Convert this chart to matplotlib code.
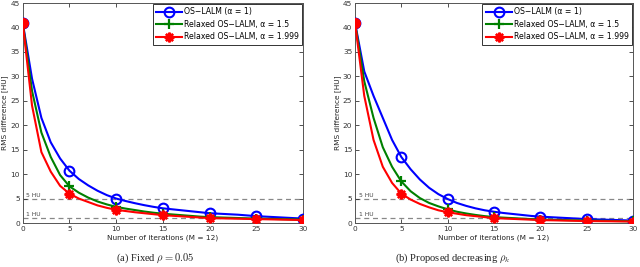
import matplotlib
matplotlib.use("Agg")
import matplotlib.pyplot as plt

plt.rcParams['mathtext.fontset'] = 'cm'

iters = list(range(31))

# Panel (a): fixed rho = 0.05
a_blue = [41, 29.5, 21.5, 16.5, 13.2, 10.7, 9.0, 7.7, 6.6, 5.7, 5.0, 4.5, 4.05, 3.65, 3.3, 3.0,
          2.8, 2.6, 2.4, 2.2, 2.0, 1.9, 1.8, 1.7, 1.55, 1.4, 1.3, 1.2, 1.1, 1.0, 0.9]
a_green = [41, 27, 18.5, 13.5, 9.8, 7.5, 6.2, 5.2, 4.4, 3.8, 3.3, 2.95, 2.65, 2.35, 2.1, 1.9,
           1.75, 1.6, 1.45, 1.3, 1.2, 1.14, 1.08, 1.02, 0.96, 0.9, 0.86, 0.82, 0.78, 0.74, 0.7]
a_red = [41, 24, 14.5, 10.5, 7.6, 6.0, 5.0, 4.3, 3.6, 3.1, 2.7, 2.45, 2.2, 2.0, 1.8, 1.6,
         1.48, 1.36, 1.24, 1.12, 1.0, 0.96, 0.92, 0.88, 0.84, 0.8, 0.76, 0.72, 0.68, 0.64, 0.6]

# Panel (b): proposed decreasing rho_k
b_blue = [41, 31, 26, 21.5, 17, 13.5, 11, 8.9, 7.2, 5.9, 4.9, 4.1, 3.5, 3.0, 2.6, 2.3,
          2.05, 1.85, 1.65, 1.45, 1.3, 1.2, 1.1, 1.0, 0.9, 0.8, 0.74, 0.68, 0.62, 0.56, 0.5]
b_green = [41, 29, 21.5, 15.5, 11.5, 8.5, 6.5, 5.1, 4.1, 3.4, 2.8, 2.3, 1.95, 1.65, 1.4, 1.2,
           1.1, 1.0, 0.9, 0.8, 0.7, 0.66, 0.62, 0.58, 0.54, 0.5, 0.47, 0.44, 0.41, 0.38, 0.35]
b_red = [41, 26, 17, 11.5, 8.2, 6.0, 4.8, 3.9, 3.2, 2.6, 2.2, 1.9, 1.6, 1.4, 1.2, 1.0,
         0.92, 0.84, 0.76, 0.68, 0.6, 0.56, 0.52, 0.48, 0.44, 0.4, 0.38, 0.36, 0.34, 0.32, 0.3]

labels = ['OS\u2212LALM (α = 1)', 'Relaxed OS\u2212LALM, α = 1.5',
          'Relaxed OS\u2212LALM, α = 1.999']
captions = [r'(a) Fixed $\rho = 0.05$', r'(b) Proposed decreasing $\rho_k$']
xticks = [0, 5, 10, 15, 20, 25, 30]
yticks = [0, 5, 10, 15, 20, 25, 30, 35, 40, 45]

fig = plt.figure(figsize=(6.4, 2.67), dpi=100)
axes_rects = [[22.7/640, 44/267, 280.5/640, 220/267], [355/640, 44/267, 278/640, 220/267]]
cap_x = [155/640, 453/640]
data = [(a_blue, a_green, a_red), (b_blue, b_green, b_red)]

fs = 5.3
for k in range(2):
    ax = fig.add_axes(axes_rects[k])
    blue, green, red = data[k]
    ax.axhline(5, color='#888888', ls=(0, (4, 3)), lw=0.9, zorder=1)
    ax.axhline(1, color='#888888', ls=(0, (4, 3)), lw=0.9, zorder=1)
    ax.text(0.4, 5.2, '5 HU', fontsize=4.3, color='#444444', va='bottom', ha='left')
    ax.text(0.4, 1.2, '1 HU', fontsize=4.3, color='#444444', va='bottom', ha='left')
    ax.plot(iters, blue, color='#0000ff', lw=1.5, marker='o', markevery=5, ms=7,
            mfc='none', mew=1.5, label=labels[0], zorder=3)
    ax.plot(iters, green, color='#008000', lw=1.5, marker='+', markevery=5, ms=7.5,
            mew=1.6, label=labels[1], zorder=4)
    ax.plot(iters, red, color='#ff0000', lw=1.5, marker=(8, 2, 0), markevery=5, ms=7,
            mew=1.7, label=labels[2], zorder=5)
    ax.plot([0], [red[0]], 'o', color='#ff0000', ms=7, zorder=6)
    ax.set_xlim(0, 30)
    ax.set_ylim(0, 45)
    ax.set_xticks(xticks)
    ax.set_yticks(yticks)
    ax.tick_params(direction='in', length=3, width=0.6, labelsize=fs, colors='#333333',
                   top=True, right=True, pad=2)
    for sp in ax.spines.values():
        sp.set_color('#555555')
        sp.set_linewidth(0.7)
    ax.set_xlabel('Number of iterations (M = 12)', fontsize=fs, labelpad=2, color='#222222')
    ax.set_ylabel('RMS difference [HU]', fontsize=fs, labelpad=1.5, color='#222222')
    leg = ax.legend(loc='upper right', fontsize=5.6, frameon=True, fancybox=False,
                    edgecolor='#333333', framealpha=1, borderpad=0.45, labelspacing=0.45,
                    handlelength=3.3, handletextpad=0.3, borderaxespad=0.1)
    leg.get_frame().set_linewidth(0.7)
    fig.text(cap_x[k], 9/267, captions[k], fontsize=7.6, family='Liberation Serif',
             ha='center', va='center', color='#222222')

fig.savefig('out.png', dpi=100)
